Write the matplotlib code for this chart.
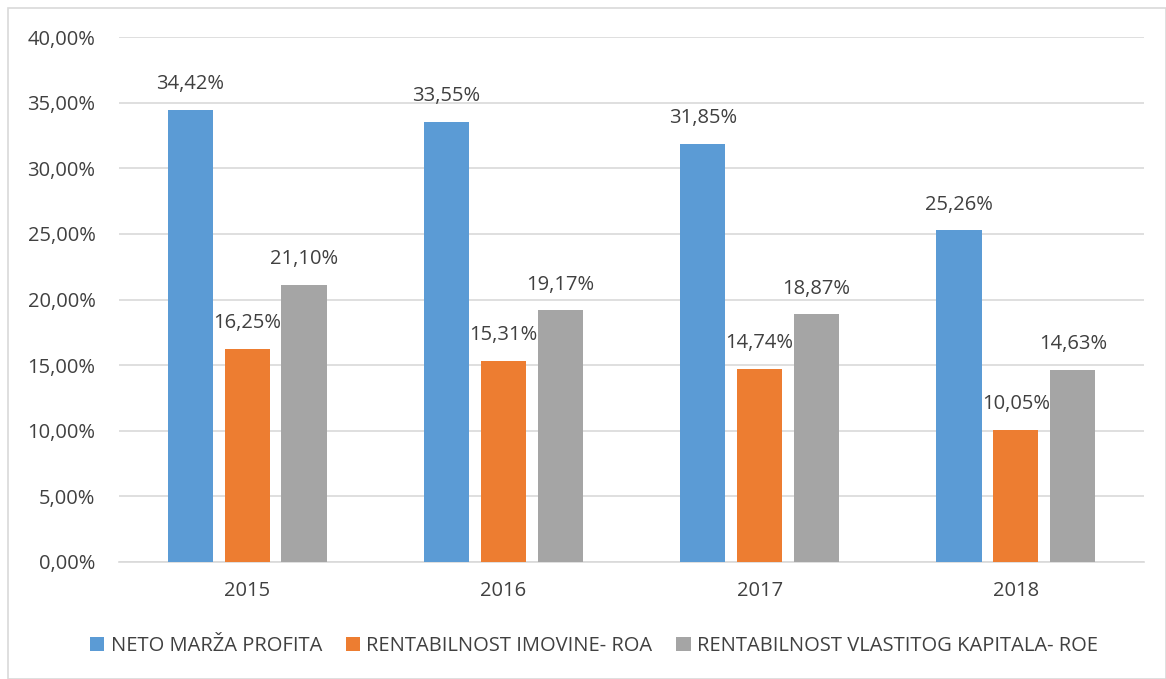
import numpy as np
import matplotlib
matplotlib.use("Agg")
import matplotlib.pyplot as plt
from matplotlib.patches import Rectangle

plt.rcParams['font.family'] = ['Open Sans', 'DejaVu Sans']

years = ["2015", "2016", "2017", "2018"]
neto_marza = [34.42, 33.55, 31.85, 25.26]
roa = [16.25, 15.31, 14.74, 10.05]
roe = [21.10, 19.17, 18.87, 14.63]
series_names = ["NETO MARŽA PROFITA", "RENTABILNOST IMOVINE- ROA",
                "RENTABILNOST VLASTITOG KAPITALA- ROE"]
colors = ["#5B9BD5", "#ED7D31", "#A5A5A5"]
yticks = [0, 5, 10, 15, 20, 25, 30, 35, 40]

def fmt(v):
    return f"{v:.2f}".replace(".", ",") + "%"

fig = plt.figure(figsize=(11.66, 6.79), dpi=100)
ax = fig.add_axes([119 / 1166, 1 - 562 / 679, 1025 / 1166, 525 / 679])

# outer chart border
fig.patches.append(Rectangle((8 / 1166, 0), 1 - 8 / 1166, 1 - 8 / 679,
                             transform=fig.transFigure, fill=False,
                             edgecolor="#D9D9D9", linewidth=1.2))

x = np.arange(len(years))
width = 0.176
offset = 0.222
text_col = "#404040"
fs = 14.5
for i, (vals, name, c) in enumerate(zip([neto_marza, roa, roe], series_names, colors)):
    pos = x + (i - 1) * offset
    ax.bar(pos, vals, width=width, color=c, label=name, zorder=3)
    for px, v in zip(pos, vals):
        ax.text(px, v + 1.2, fmt(v), ha="center", va="bottom",
                fontsize=fs, color=text_col)

ax.set_xlim(-0.5, len(years) - 0.5)
ax.set_ylim(0, 40)
ax.set_yticks(yticks)
ax.set_yticklabels([fmt(t) for t in yticks])
ax.set_xticks(x)
ax.set_xticklabels(years)
ax.tick_params(axis="both", length=0, labelsize=fs, colors=text_col)
ax.tick_params(axis="y", pad=17)
ax.tick_params(axis="x", pad=14)
ax.grid(axis="y", color="#D9D9D9", linewidth=1.2, zorder=0)
for s in ["top", "right", "left"]:
    ax.spines[s].set_visible(False)
ax.spines["bottom"].set_color("#D9D9D9")
ax.spines["bottom"].set_linewidth(1.2)

fig.legend(loc="center", bbox_to_anchor=(594 / 1166, 1 - 646 / 679), ncol=3,
           frameon=False, fontsize=fs, labelcolor=text_col,
           handlelength=0.7, handleheight=0.7, handletextpad=0.3,
           columnspacing=1.2)

fig.savefig("out.png", dpi=100)
